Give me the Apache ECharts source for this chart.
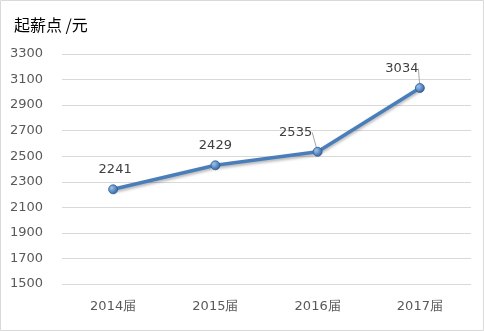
<!DOCTYPE html>
<html><head><meta charset="utf-8">
<script src="https://cdn.jsdelivr.net/npm/echarts@6/dist/echarts.min.js"></script>
<style>html,body{margin:0;padding:0;background:#fff}#c{width:484px;height:331px}</style>
</head><body><div id="c"></div>
<script>
var categories = ['2014届', '2015届', '2016届', '2017届'];
var values = [2241, 2429, 2535, 3034];
var labelShiftX = [2, 0, -22, -18];
var showLeader = [false, false, true, true];
var yMin = 1500, yMax = 3300, yStep = 200;
var title = '起薪点 /元';

var chart = echarts.init(document.getElementById('c'));
chart.setOption({
  animation: false,
  graphic: [{type: 'rect', shape: {x: 0.5, y: 0.5, width: 483, height: 330}, style: {fill: 'none', stroke: '#d9d9d9', lineWidth: 1}}],
  title: {text: title, left: 9, top: 12, textStyle: {fontFamily: 'Noto Sans CJK SC', fontSize: 16, fontWeight: 'normal', color: '#000'}},
  grid: {left: 62, right: 13, top: 54, bottom: 47},
  xAxis: {
    type: 'category', data: categories, boundaryGap: true,
    axisLine: {show: false}, axisTick: {show: false},
    axisLabel: {color: '#595959', fontSize: 13, fontFamily: 'DejaVu Sans', margin: 16}
  },
  yAxis: {
    type: 'value', min: yMin, max: yMax, interval: yStep,
    axisLine: {show: false}, axisTick: {show: false},
    splitLine: {lineStyle: {color: '#d9d9d9', width: 1}},
    axisLabel: {color: '#595959', fontSize: 13, fontFamily: 'DejaVu Sans', margin: 19, formatter: function (v) { return String(v); }}
  },
  series: [{
    type: 'line',
    data: values.map(function (v, i) { return {value: v, labelLine: {show: showLeader[i]}}; }),
    symbol: 'circle', symbolSize: 9,
    lineStyle: {color: '#4a7ebb', width: 3.5, shadowColor: 'rgba(0,0,0,0.3)', shadowBlur: 3, shadowOffsetY: 2},
    itemStyle: {
      color: new echarts.graphic.RadialGradient(0.35, 0.35, 0.7, [{offset: 0, color: '#9dc3ef'}, {offset: 1, color: '#2e5f9e'}]),
      borderColor: '#2e5a92', borderWidth: 0.8
    },
    label: {show: true, position: 'top', distance: 8, color: '#404040', fontSize: 13, fontFamily: 'DejaVu Sans'},
    labelLine: {lineStyle: {color: '#a6a6a6', width: 1}},
    labelLayout: function (p) { return {dx: labelShiftX[p.dataIndex], dy: 0}; }
  }]
});
</script></body></html>
